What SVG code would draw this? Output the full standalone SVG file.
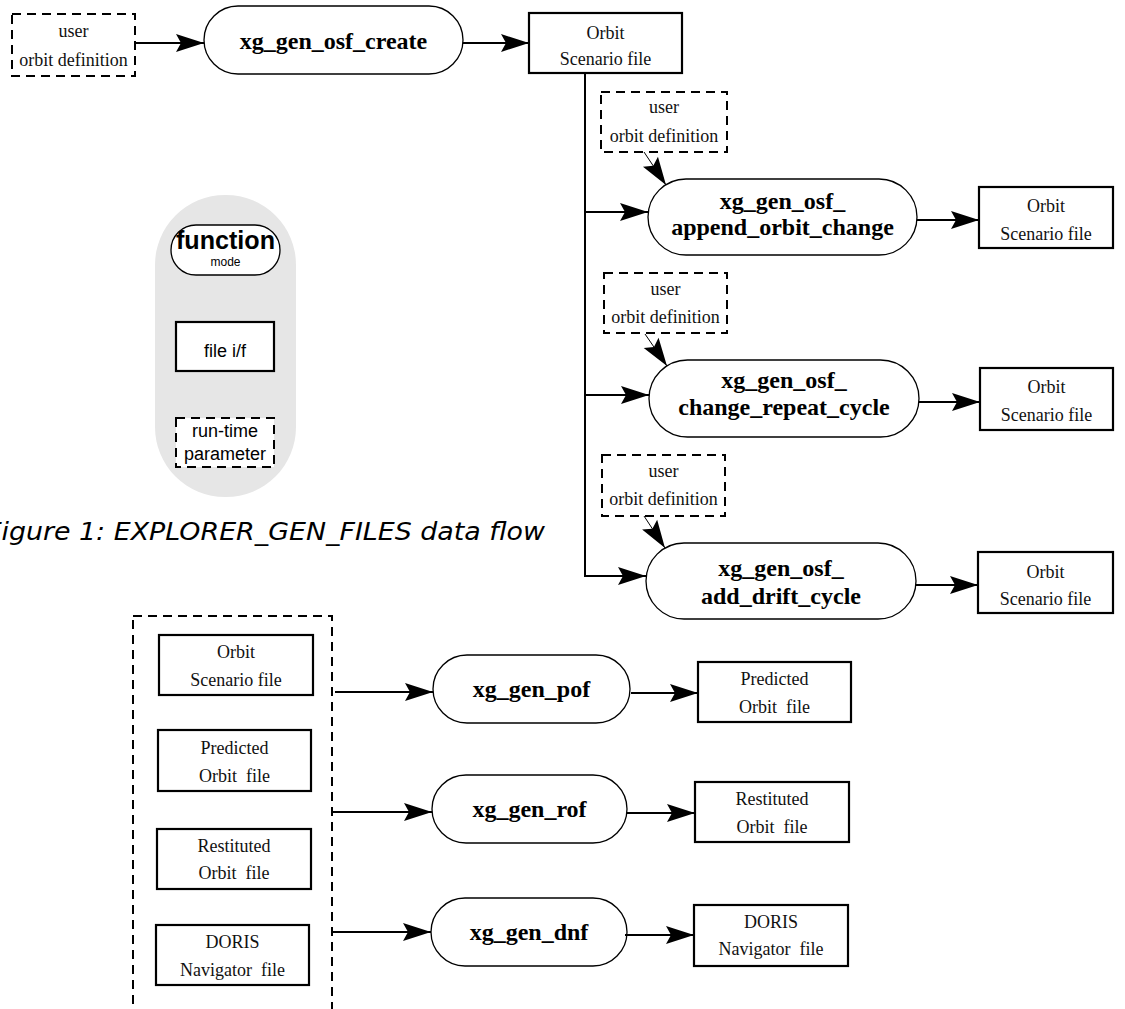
<svg xmlns="http://www.w3.org/2000/svg" width="1125" height="1009" viewBox="0 0 1125 1009">
<style>
.pill{fill:#fff;stroke:#000;stroke-width:1.3}
.box{fill:#fff;stroke:#000;stroke-width:2.2}
.dbox{fill:#fff;stroke:#000;stroke-width:2;stroke-dasharray:9 6}
.t{font-family:"Liberation Serif",serif;font-size:18px;text-anchor:middle;fill:#111}
.fn{font-family:"Liberation Serif",serif;font-weight:bold;font-size:24px;text-anchor:middle;fill:#000}
.ls{font-family:"Liberation Sans",Arial,sans-serif;text-anchor:middle;fill:#000}
.c{stroke:#000;stroke-width:2;fill:none;marker-end:url(#ah)}
.cs{stroke:#000;stroke-width:1;fill:none;marker-end:url(#ah)}
</style>
<defs>
<marker id="ah" markerUnits="userSpaceOnUse" markerWidth="30" markerHeight="20" refX="28" refY="9" orient="auto" overflow="visible">
<path d="M0,0 L28,9 L0,18 L5,9 Z" fill="#000"/>
</marker>
</defs>
<rect width="1125" height="1009" fill="#fff"/>

<g id="legend">
<rect x="155" y="195" width="141" height="302" rx="70" ry="70" fill="#e6e6e6"/>
<rect x="171" y="225" width="109" height="50" rx="25" class="pill"/>
<text x="225.5" y="249" class="ls" font-size="26" font-weight="bold" textLength="99" lengthAdjust="spacingAndGlyphs">function</text>
<text x="225.5" y="266" class="ls" font-size="12">mode</text>
<rect x="176" y="322" width="98" height="49" class="box"/>
<text x="225" y="357" class="ls" font-size="18">file i/f</text>
<rect x="176" y="418" width="98" height="49" class="dbox"/>
<text x="225" y="437" class="ls" font-size="18">run-time</text>
<text x="225" y="460" class="ls" font-size="18">parameter</text>
</g>
<text x="-14" y="540" font-family="'DejaVu Sans',sans-serif" font-style="italic" font-size="24" textLength="559" lengthAdjust="spacingAndGlyphs" fill="#000">Figure 1: EXPLORER_GEN_FILES data flow</text>

<g id="user0"><rect x="12" y="14" width="123" height="62" class="dbox"/><text x="73.5" y="37" class="t">user</text><text x="73.5" y="66" class="t">orbit definition</text></g>
<g id="osf_create"><rect x="204" y="6" width="259" height="68" rx="34" class="pill"/><text x="333.5" y="49" class="fn">xg_gen_osf_create</text></g>
<g id="osf0"><rect x="529" y="13" width="153" height="60" class="box"/><text x="605.5" y="39" class="t">Orbit</text><text x="605.5" y="65" class="t">Scenario file</text></g>

<g id="user1"><rect x="601" y="92" width="126" height="60" class="dbox"/><text x="664" y="113" class="t">user</text><text x="664" y="142" class="t">orbit definition</text></g>
<g id="append"><rect x="648" y="179" width="269" height="76" rx="38" class="pill"/><text x="782.5" y="209" class="fn">xg_gen_osf_</text><text x="782.5" y="235" class="fn">append_orbit_change</text></g>
<g id="osf1"><rect x="979" y="187" width="134" height="61" class="box"/><text x="1046" y="212" class="t">Orbit</text><text x="1046" y="240" class="t">Scenario file</text></g>

<g id="user2"><rect x="604" y="273" width="123" height="60" class="dbox"/><text x="665.5" y="295" class="t">user</text><text x="665.5" y="323" class="t">orbit definition</text></g>
<g id="repeat"><rect x="649" y="360" width="270" height="77" rx="38.5" class="pill"/><text x="784" y="388" class="fn">xg_gen_osf_</text><text x="784" y="415" class="fn">change_repeat_cycle</text></g>
<g id="osf2"><rect x="980" y="368" width="133" height="62" class="box"/><text x="1046.5" y="393" class="t">Orbit</text><text x="1046.5" y="421" class="t">Scenario file</text></g>

<g id="user3"><rect x="602" y="455" width="123" height="61" class="dbox"/><text x="663.5" y="477" class="t">user</text><text x="663.5" y="505" class="t">orbit definition</text></g>
<g id="drift"><rect x="646" y="543" width="270" height="76" rx="38" class="pill"/><text x="781" y="576" class="fn">xg_gen_osf_</text><text x="781" y="604" class="fn">add_drift_cycle</text></g>
<g id="osf3"><rect x="978" y="552" width="135" height="61" class="box"/><text x="1045.5" y="578" class="t">Orbit</text><text x="1045.5" y="605" class="t">Scenario file</text></g>

<g id="inputs">
<rect x="133" y="616" width="199" height="400" class="dbox" style="fill:none"/>
<g id="in_osf"><rect x="159" y="635" width="154" height="60" class="box"/><text x="236" y="658" class="t">Orbit</text><text x="236" y="686" class="t">Scenario file</text></g>
<g id="in_pof"><rect x="158" y="730" width="153" height="61" class="box"/><text x="234.5" y="754" class="t">Predicted</text><text x="234.5" y="782" class="t" xml:space="preserve">Orbit  file</text></g>
<g id="in_rof"><rect x="157" y="829" width="154" height="60" class="box"/><text x="234" y="852" class="t">Restituted</text><text x="234" y="879" class="t" xml:space="preserve">Orbit  file</text></g>
<g id="in_dnf"><rect x="156" y="925" width="153" height="60" class="box"/><text x="232.5" y="948" class="t">DORIS</text><text x="232.5" y="976" class="t" xml:space="preserve">Navigator  file</text></g>
</g>

<g id="gen_pof"><rect x="433" y="655" width="197" height="68" rx="34" class="pill"/><text x="531.5" y="697" class="fn">xg_gen_pof</text></g>
<g id="gen_rof"><rect x="432" y="775" width="195" height="68" rx="34" class="pill"/><text x="529.5" y="817" class="fn">xg_gen_rof</text></g>
<g id="gen_dnf"><rect x="431" y="898" width="196" height="68" rx="34" class="pill"/><text x="529" y="940" class="fn">xg_gen_dnf</text></g>

<g id="out_pof"><rect x="698" y="662" width="153" height="60" class="box"/><text x="774.5" y="685" class="t">Predicted</text><text x="774.5" y="713" class="t" xml:space="preserve">Orbit  file</text></g>
<g id="out_rof"><rect x="695" y="782" width="154" height="60" class="box"/><text x="772" y="805" class="t">Restituted</text><text x="772" y="833" class="t" xml:space="preserve">Orbit  file</text></g>
<g id="out_dnf"><rect x="694" y="905" width="154" height="61" class="box"/><text x="771" y="928" class="t">DORIS</text><text x="771" y="955" class="t" xml:space="preserve">Navigator  file</text></g>

<g id="connectors">
<line x1="136" y1="43" x2="204" y2="43" class="c"/>
<line x1="463" y1="43" x2="529" y2="43" class="c"/>
<line x1="585" y1="73" x2="585" y2="577" style="stroke:#000;stroke-width:2"/>
<line x1="584" y1="212" x2="648" y2="212" class="c"/>
<line x1="584" y1="395" x2="649" y2="395" class="c"/>
<line x1="584" y1="576" x2="646" y2="576" class="c"/>
<line x1="644" y1="152" x2="666" y2="185" class="cs"/>
<line x1="645" y1="334" x2="667" y2="366" class="cs"/>
<line x1="644" y1="516" x2="665" y2="548" class="cs"/>
<line x1="917" y1="220" x2="979" y2="220" class="c"/>
<line x1="919" y1="402" x2="980" y2="402" class="c"/>
<line x1="916" y1="585" x2="978" y2="585" class="c"/>
<line x1="335" y1="692" x2="433" y2="692" class="c"/>
<line x1="332" y1="812" x2="432" y2="812" class="c"/>
<line x1="333" y1="932" x2="431" y2="932" class="c"/>
<line x1="631" y1="693" x2="698" y2="693" class="c"/>
<line x1="627" y1="813" x2="695" y2="813" class="c"/>
<line x1="625" y1="935" x2="694" y2="935" class="c"/>
</g>
</svg>
